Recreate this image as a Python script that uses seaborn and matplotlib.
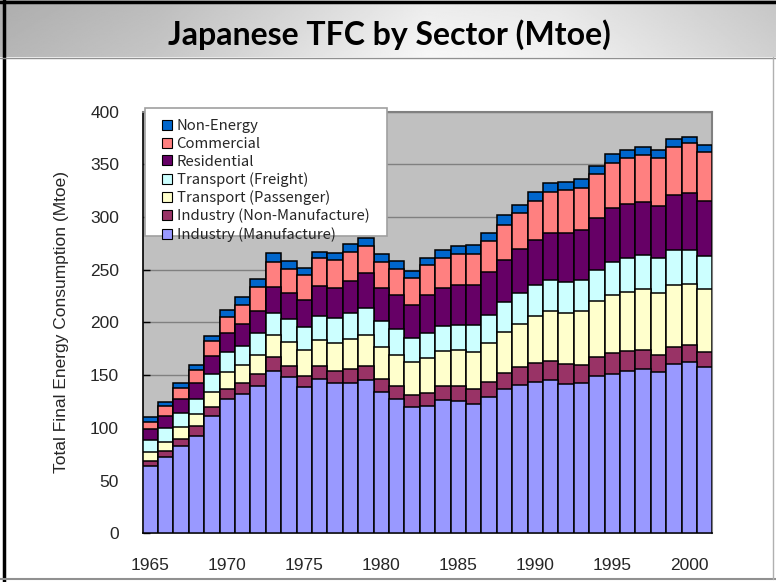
import numpy as np
import pandas as pd
import matplotlib
matplotlib.use("Agg")
import matplotlib.pyplot as plt
import seaborn as sns
from matplotlib.patches import Rectangle, Patch
from matplotlib.lines import Line2D

# ---------------- data (Mtoe) ----------------
years = list(range(1965, 2002))
manufacture = [63.9, 72.1, 82.9, 92.7, 110.8, 127.2, 132.0, 139.9, 153.9, 148.2,
               138.6, 146.3, 142.5, 142.5, 145.6, 133.6, 127.2, 119.6, 120.3, 126.0,
               125.7, 122.5, 128.8, 136.7, 140.8, 143.4, 145.6, 141.5, 142.5, 148.8,
               151.0, 154.2, 155.8, 152.9, 160.5, 162.4, 157.3]
non_manufacture = [4.7, 6.0, 6.7, 8.6, 8.8, 9.5, 10.5, 11.1, 13.0, 10.8,
                   10.8, 12.0, 11.7, 13.3, 13.4, 12.7, 12.7, 11.8, 12.7, 13.9,
                   14.2, 14.2, 14.6, 15.2, 16.5, 18.1, 17.5, 19.0, 17.4, 18.1,
                   19.9, 18.4, 17.7, 16.5, 16.2, 15.9, 14.6]
passenger = [8.0, 8.9, 11.0, 12.0, 14.0, 16.2, 17.4, 18.5, 21.2, 22.4,
             24.1, 25.4, 26.3, 28.5, 29.1, 30.1, 29.6, 30.8, 33.3, 32.6,
             33.6, 35.2, 37.1, 39.0, 41.2, 44.3, 48.1, 48.5, 51.3, 53.2,
             54.7, 56.4, 57.8, 58.6, 59.3, 58.6, 59.4]
freight = [11.4, 12.7, 13.3, 14.3, 17.4, 18.7, 18.1, 20.6, 20.9, 21.9,
           22.2, 22.8, 23.8, 24.7, 25.8, 25.3, 24.4, 23.1, 23.8, 24.4,
           24.3, 25.9, 26.9, 28.2, 29.5, 30.1, 29.4, 29.7, 29.4, 30.1,
           31.7, 32.3, 32.6, 32.7, 32.6, 32.3, 31.7]
residential = [10.7, 11.7, 13.3, 14.9, 16.8, 18.4, 20.6, 21.2, 24.8, 24.7,
               25.3, 28.5, 28.5, 30.8, 32.6, 31.1, 32.0, 31.7, 35.8, 35.9,
               38.1, 38.1, 40.3, 40.6, 41.8, 42.8, 44.4, 46.3, 47.6, 48.5,
               51.6, 51.3, 50.7, 49.7, 51.9, 53.8, 52.3]
commercial = [7.3, 9.5, 10.5, 12.7, 14.3, 15.2, 18.4, 22.5, 24.0, 22.8,
              23.8, 25.7, 26.3, 26.9, 25.9, 24.7, 24.9, 25.3, 28.2, 27.9,
              28.6, 29.2, 29.4, 33.2, 34.3, 36.4, 39.0, 40.3, 39.6, 41.8,
              42.1, 43.4, 44.3, 45.3, 46.3, 47.0, 46.8]
non_energy = [3.8, 3.5, 4.7, 4.1, 4.7, 7.0, 7.0, 7.5, 8.2, 7.3,
              7.0, 6.0, 6.9, 7.9, 7.9, 7.6, 7.3, 7.0, 7.2, 7.6,
              7.9, 8.2, 7.9, 8.6, 7.0, 8.9, 7.9, 8.2, 7.9, 7.9,
              9.2, 7.6, 7.9, 7.9, 7.0, 6.3, 6.7]

series_names = ["Industry (Manufacture)", "Industry (Non-Manufacture)",
                "Transport (Passenger)", "Transport (Freight)",
                "Residential", "Commercial", "Non-Energy"]
series_values = [manufacture, non_manufacture, passenger, freight,
                 residential, commercial, non_energy]
colors = ["#9999FF", "#993366", "#FFFFCC", "#CCFFFF", "#660066", "#FF8080", "#0066CC"]

title_text = "Japanese TFC by Sector (Mtoe)"
ylabel_text = "Total Final Energy Consumption (Mtoe)"
xtick_years = [1965, 1970, 1975, 1980, 1985, 1990, 1995, 2000]
ytick_values = [0, 50, 100, 150, 200, 250, 300, 350, 400]

# ---------------- figure ----------------
sns.set_theme(style="white")
plt.rcParams['font.family'] = ['Liberation Sans', 'DejaVu Sans']

W, H = 776, 582
fig = plt.figure(figsize=(W / 100, H / 100), dpi=100)
fig.patch.set_facecolor("white")

# banner
bax = fig.add_axes([0, 1 - 57 / H, 1, 57 / H])
xs = np.linspace(0, 1, 400)
row = np.interp(xs, [0, 0.2, 0.55, 0.72, 1.0], [0.70, 0.76, 0.95, 0.93, 0.80])
ys = np.linspace(0, 1, 60)
grad = row[None, :] * (0.97 + 0.05 * ys[:, None])
bax.imshow(np.clip(grad, 0, 1), cmap="gray", vmin=0, vmax=1, aspect="auto",
           extent=[0, 1, 0, 1])
bax.set_axis_off()
fig.text(389.5 / W, 1 - 35 / H, title_text, ha="center", va="center",
         fontsize=23, fontweight="bold", family=["Lato", "DejaVu Sans"], color="black")

# plot axes
x0, x1, ytop, ybot = 142.7, 712.3, 111.7, 533.2
ax = fig.add_axes([x0 / W, 1 - ybot / H, (x1 - x0) / W, (ybot - ytop) / H])
ax.set_facecolor("#C0C0C0")

df = pd.DataFrame({"year": years})
cum = np.zeros(len(years))
cums = []
for vals in series_values:
    cum = cum + np.array(vals)
    cums.append(cum.copy())
for name, color, c in reversed(list(zip(series_names, colors, cums))):
    df["v"] = c
    sns.barplot(data=df, x="year", y="v", order=years, color=color, saturation=1,
                width=1.0, edgecolor="black", linewidth=1.1, errorbar=None, ax=ax, zorder=3)

ax.set_xlim(-0.5, len(years) - 0.5)
ax.set_ylim(0, 400)
ax.set_yticks(ytick_values)
ax.set_yticklabels([str(v) for v in ytick_values])
ax.set_xticks([years.index(y) for y in xtick_years])
ax.set_xticklabels([str(y) for y in xtick_years])
ax.set_xlabel("")
ax.set_ylabel("")
ax.yaxis.grid(True, color="#808080", linewidth=1.0, zorder=0)
ax.set_axisbelow(True)
ax.tick_params(axis="y", direction="in", length=5, width=1, color="black",
               pad=17, labelsize=12.5, left=True)
ax.tick_params(axis="x", length=0, pad=18, labelsize=12.5)
for side in ["left", "bottom"]:
    ax.spines[side].set_color("black")
    ax.spines[side].set_linewidth(1.2)
for side in ["top", "right"]:
    ax.spines[side].set_color("#808080")
    ax.spines[side].set_linewidth(1.5)

fig.text(62 / W, 1 - 322 / H, ylabel_text, rotation=90, ha="center", va="center",
         fontsize=12.5)

# legend box + legend
lx0 = (145 - x0) / (x1 - x0)
lx1 = (387 - x0) / (x1 - x0)
ly0 = (ybot - 236) / (ybot - ytop)
ly1 = (ybot - 108) / (ybot - ytop)
ax.add_patch(Rectangle((lx0, ly0), lx1 - lx0, ly1 - ly0, transform=ax.transAxes,
                       facecolor="white", edgecolor="#A0A0A0", linewidth=1.2,
                       clip_on=False, zorder=10))
handles = [Patch(facecolor=c, edgecolor="black", linewidth=0.8)
           for c in reversed(colors)]
labels = list(reversed(series_names))
leg = ax.legend(handles, labels, loc="upper left",
                bbox_to_anchor=((152 - x0) / (x1 - x0), (ybot - 109) / (ybot - ytop)),
                frameon=False, handlelength=0.65, handleheight=0.65,
                handletextpad=0.3, labelspacing=0.24, borderpad=0.2,
                prop={"family": ["Noto Sans CJK JP", "DejaVu Sans"], "size": 10.7})
leg.set_zorder(11)

# slide frame lines
fig.add_artist(Line2D([4 / W, 4 / W], [0, 1], color="black", linewidth=2.5))
fig.add_artist(Line2D([0, 1], [1 - 1.5 / H, 1 - 1.5 / H], color="black", linewidth=2.5))
fig.add_artist(Line2D([0, 1], [1 - 57.5 / H, 1 - 57.5 / H], color="#909090", linewidth=1))
fig.add_artist(Line2D([0, 1], [1 - 579 / H, 1 - 579 / H], color="#909090", linewidth=1.5))
fig.add_artist(Line2D([773 / W, 773 / W], [1 - 579 / H, 1 - 57 / H], color="#B0B0B0", linewidth=1))

fig.savefig("out.png", dpi=100)
